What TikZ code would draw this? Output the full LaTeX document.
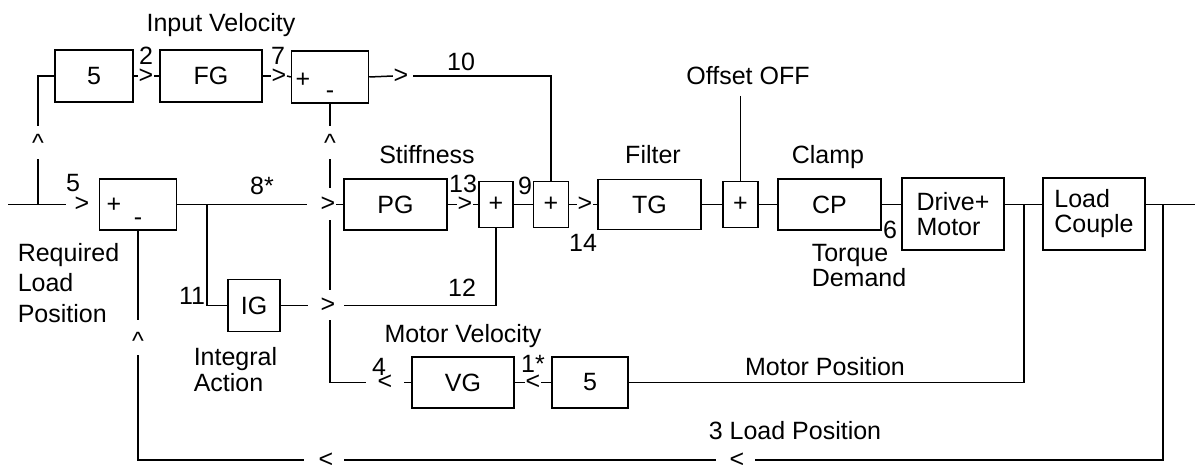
\documentclass[tikz,border=0pt]{standalone}
\usepackage{fontspec}
\setmainfont{Liberation Sans}
\begin{document}
\begin{tikzpicture}[x=1pt,y=-1pt,line width=1.5pt,
  every node/.style={font=\fontsize{25}{25}\selectfont},
  blk/.style={draw,inner sep=0pt},
  mk/.style={inner sep=0pt},
  lbl/.style={inner sep=0pt,anchor=base},
  lbll/.style={inner sep=0pt,anchor=base west}]
\useasboundingbox (0,0) rectangle (1195,465);
% blocks
\node[blk,minimum width=78pt,minimum height=52pt] (b5a) at (94,76) {5};
\node[blk,minimum width=102pt,minimum height=52pt] (FG) at (211,76) {FG};
\node[blk,minimum width=77pt,minimum height=52pt] (S1t) at (330,77) {};
\node[mk] (S1tp) at (303,80) {+};
\node[mk] (S1tm) at (330,95) {-};
\node[blk,minimum width=77pt,minimum height=51pt] (S1) at (138,204.5) {};
\node[mk] (S1p) at (114,205.5) {+};
\node[mk] (S1m) at (138,222) {-};
\node[blk,minimum width=103pt,minimum height=51pt] (PG) at (395.5,204.5) {PG};
\node[blk,minimum width=34pt,minimum height=46pt] (S2) at (496,204.5) {+};
\node[blk,minimum width=35pt,minimum height=46pt] (S3) at (551,204.5) {+};
\node[blk,minimum width=103pt,minimum height=50pt] (TG) at (649.5,204.5) {TG};
\node[blk,minimum width=35pt,minimum height=46pt] (S4) at (740.5,204.5) {+};
\node[blk,minimum width=103pt,minimum height=51pt] (CP) at (829.5,204.5) {CP};
\node[blk,minimum width=102pt,minimum height=72pt,align=left] (DM) at (953,214) {Drive+\\Motor};
\node[blk,minimum width=102pt,minimum height=72pt,align=left] (LC) at (1094,214) {Load\\Couple};
\node[blk,minimum width=52pt,minimum height=52pt] (IG) at (254,305.5) {IG};
\node[blk,minimum width=102pt,minimum height=51pt] (VG) at (463,382.5) {VG};
\node[blk,minimum width=76pt,minimum height=51pt] (b5b) at (590,382.5) {5};
% arrow marks
\node[mk] (mIn) at (82,204.5) {>};
\node[mk] (m2) at (146,76) {>};
\node[mk] (m7) at (279,76) {>};
\node[mk] (m10) at (401,76) {>};
\node[mk] (m8) at (328,204.5) {>};
\node[mk] (m13) at (465,204.5) {>};
\node[mk] (m14) at (585,204.5) {>};
\node[mk] (m12) at (328,305.5) {>};
\node[mk] (m4) at (385,382.5) {<};
\node[mk] (m1) at (533,382.5) {<};
\node[mk] (mb1) at (326,460) {<};
\node[mk] (mb2) at (737,460) {<};
\node[mk] (u1) at (38,143) {\textasciicircum};
\node[mk] (u2) at (330,143) {\textasciicircum};
\node[mk] (u3) at (138,341) {\textasciicircum};
% coordinates
\coordinate (in0) at (8,204.5);
\coordinate (J0) at (38,204.5);
\coordinate (J8) at (207,204.5);
\coordinate (off) at (740.5,96);
\coordinate (J1) at (1024,204.5);
\coordinate (J2) at (1163,204.5);
\coordinate (out) at (1195,204.5);
\coordinate (c4) at (330,382.5);
% connectors
\draw[shorten >=8pt] (in0) -- (mIn.west);
\draw[shorten >=7pt] (J0) -- (u1.south);
\draw[shorten <=8pt] (u1.north) |- (b5a.west);
\draw (b5a.east) -- (m2.west);
\draw (m2.east) -- (FG.west);
\draw (FG.east) -- (m7.west);
\draw (m7.east) -- (S1t.west);
\draw (S1t.east) -- (m10.west);
\draw[shorten <=4pt] (m10.east) -| (S3.north);
\draw[shorten >=13pt] (S1.east) -- (m8.west);
\draw (m8.east) -- (PG.west);
\draw (J8) |- (IG.west);
\draw[shorten >=12pt] (IG.east) -- (m12.west);
\draw[shorten <=8pt] (m12.east) -| (S2.south);
\draw (PG.east) -- (m13.west);
\draw (m13.east) -- (S2.west);
\draw (S2.east) -- (S3.west);
\draw (S3.east) -- (m14.west);
\draw (m14.east) -- (TG.west);
\draw (TG.east) -- (S4.west);
\draw (off) -- (S4.north);
\draw (S4.east) -- (CP.west);
\draw (CP.east) -- (CP.east -| DM.west);
\draw (DM.east |- J1) -- (LC.west |- J1);
\draw (J1) |- (b5b.east);
\draw (LC.east |- J2) -- (out);
\draw[shorten >=10pt] (J2) |- (mb2.east);
\draw[shorten <=13pt,shorten >=10pt] (mb2.west) -- (mb1.east);
\draw[shorten <=14pt,shorten >=5pt] (mb1.west) -| (u3.south);
\draw[shorten <=12pt] (u3.north) -- (S1.south);
\draw (b5b.west) -- (m1.east);
\draw (m1.west) -- (VG.east);
\draw[shorten >=11pt] (VG.west) -- (m4.east);
\draw[shorten <=11pt] (m4.west) -- (c4);
\draw (c4) -- (330,320) (330,290) -- (330,220);
\draw[shorten >=7pt] (330,188) -- (u2.south);
\draw[shorten <=8pt] (u2.north) -- (S1t.south);
% labels
\node[lbl] at (221,32) {Input Velocity};
\node[lbl] at (146,65) {2};
\node[lbl] at (278,65) {7};
\node[lbl] at (461,71) {10};
\node[lbl] at (748,85) {Offset OFF};
\node[lbl] at (427,164) {Stiffness};
\node[lbl] at (653,164) {Filter};
\node[lbl] at (828,164) {Clamp};
\node[lbl] at (73,192) {5};
\node[lbl] at (262,195) {8*};
\node[lbl] at (463,193) {13};
\node[lbl] at (525,195) {9};
\node[lbl] at (583,252) {14};
\node[lbl] at (462,297) {12};
\node[lbl] at (192,305) {11};
\node[lbl] at (890,239) {6};
\node[lbll] at (811,262) {Torque};
\node[lbll] at (811,287) {Demand};
\node[lbll] at (17,262) {Required};
\node[lbll] at (17,292) {Load};
\node[lbll] at (17,323) {Position};
\node[lbll] at (193,366) {Integral};
\node[lbll] at (193,391) {Action};
\node[lbl] at (463,342) {Motor Velocity};
\node[lbl] at (379,375) {4};
\node[lbl] at (533,372) {1*};
\node[lbl] at (825,375) {Motor Position};
\node[lbl] at (795,439) {3 Load Position};
\end{tikzpicture}
\end{document}
